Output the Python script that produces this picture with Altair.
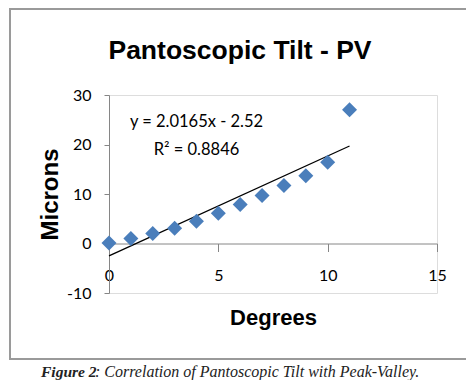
import altair as alt
import pandas as pd

# data
degrees = [0, 1, 2, 3, 4, 5, 6, 7, 8, 9, 10, 11]
microns = [0.1, 1.0, 2.0, 3.1, 4.5, 6.1, 7.9, 9.7, 11.7, 13.7, 16.4, 27.0]
x_ticks = [0, 5, 10, 15]
y_ticks = [-10, 0, 10, 20, 30]
eq_line1 = "y = 2.0165x - 2.52"
eq_line2 = "R\u00b2 = 0.8846"
title_text = "Pantoscopic Tilt - PV"
caption_bold = "Figure 2"
caption_rest = ": Correlation of Pantoscopic Tilt with Peak-Valley."

df = pd.DataFrame({"Degrees": degrees, "Microns": microns})

AXIS_GRAY = "#868686"

x_scale = alt.Scale(domain=[0, 15], nice=False, zero=False)
y_scale = alt.Scale(domain=[-10, 30], nice=False, zero=False)

x_enc = alt.X(
    "Degrees:Q",
    scale=x_scale,
    axis=alt.Axis(
        values=x_ticks,
        grid=False,
        offset=-49.5,
        domainColor=AXIS_GRAY,
        tickColor=AXIS_GRAY,
        tickSize=8,
        labelPadding=16,
        labelFlush=False,
        labelExpr="'' + datum.value",
        labelFont="Lato",
        labelFontSize=16,
        labelColor="black",
        title="Degrees",
        titleFont="Liberation Sans",
        titleFontSize=22,
        titleFontWeight="bold",
        titleColor="black",
        titleX=164,
        titleY=73.5,
        titleBaseline="middle",
        titleAlign="center",
    ),
)
y_enc = alt.Y(
    "Microns:Q",
    scale=y_scale,
    axis=alt.Axis(
        values=y_ticks,
        grid=False,
        domainColor=AXIS_GRAY,
        tickColor=AXIS_GRAY,
        tickSize=5,
        labelPadding=13,
        labelFlush=False,
        labelExpr="'' + datum.value",
        labelFont="Lato",
        labelFontSize=16,
        labelColor="black",
        title="Microns",
        titleFont="Liberation Sans",
        titleFontSize=24,
        titleFontWeight="bold",
        titleColor="black",
        titleX=-59,
        titleY=99,
        titleAngle=270,
        titleBaseline="middle",
        titleAlign="center",
    ),
)

base = alt.Chart(df)

frame = base.mark_rect(fill=None, stroke="#9a9a9a", strokeWidth=2).encode(
    x=alt.value(-99), x2=alt.value(359), y=alt.value(-86), y2=alt.value(264)
).transform_filter("datum.Degrees == 0")

points = base.mark_point(shape="diamond", filled=True, size=225, color="#4a7ebb", opacity=1).encode(
    x=x_enc, y=y_enc
)

trend = base.transform_regression("Degrees", "Microns").mark_line(color="black", strokeWidth=1.3).encode(
    x="Degrees:Q", y="Microns:Q"
)

eq1 = alt.Chart(pd.DataFrame({"t": [eq_line1]})).mark_text(
    font="Lato", fontSize=16.5, color="black", align="center", baseline="middle"
).encode(text="t:N", x=alt.value(87.5), y=alt.value(27))
eq2 = alt.Chart(pd.DataFrame({"t": [eq_line2]})).mark_text(
    font="Lato", fontSize=16.5, color="black", align="center", baseline="middle"
).encode(text="t:N", x=alt.value(87.5), y=alt.value(55))

cap1 = alt.Chart(pd.DataFrame({"t": [caption_bold]})).mark_text(
    font="Liberation Serif", fontSize=15.5, fontStyle="italic", fontWeight="bold",
    color="#222222", align="left", baseline="alphabetic"
).encode(text="t:N", x=alt.value(-68), y=alt.value(282))
cap2 = alt.Chart(pd.DataFrame({"t": [caption_rest]})).mark_text(
    font="Liberation Serif", fontSize=16, fontStyle="italic",
    color="#222222", align="left", baseline="alphabetic"
).encode(text="t:N", x=alt.value(-14), y=alt.value(282))

chart = alt.layer(frame, trend, points, eq1, eq2, cap1, cap2).properties(
    width=328,
    height=198,
    autosize="none",
    padding={"left": 101, "top": 87, "right": 29, "bottom": 87},
    title=alt.TitleParams(
        title_text,
        font="Liberation Sans",
        fontSize=26.5,
        fontWeight="bold",
        color="black",
        anchor="middle",
        frame="group",
        dx=-33,
        offset=-77,
        baseline="alphabetic",
    ),
).configure_view(strokeWidth=0).configure(background="white")

chart.save("out.html", embed_options={"renderer": "svg", "actions": False})
